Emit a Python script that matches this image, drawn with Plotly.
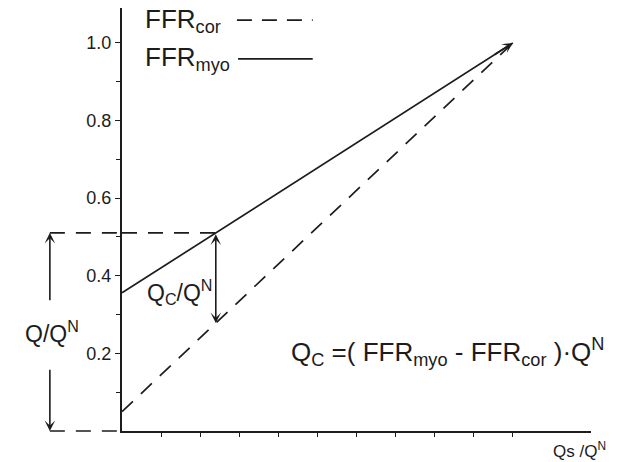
import numpy as np
import plotly.graph_objects as go

# ---- data ----
qs = [0.0, 1.0]                 # Qs/Q^N
ffr_myo = [0.356, 1.0]          # myocardial FFR line
ffr_cor = [0.05, 1.0]           # coronary FFR line
qs_sten = 0.24                  # operating point
ytick_vals = [0.2, 0.4, 0.6, 0.8, 1.0]
ytick_text = ["0.2", "0.4", "0.6", "0.8", "1.0"]
yminor_vals = [0.1, 0.3, 0.5, 0.7, 0.9]
xtick_vals = [0.1, 0.2, 0.3, 0.4, 0.5, 0.6, 0.7, 0.8, 0.9, 1.0]
q_arrow_x = -0.184              # position of the Q/Q^N arrow
q_gap = [0.333, 0.162]          # gap for the Q/Q^N label

q_total = float(np.interp(qs_sten, qs, ffr_myo))
q_cor = float(np.interp(qs_sten, qs, ffr_cor))

INK = "#1c1c1c"
FONT = "Liberation Sans, Arial, sans-serif"
DASH = "15px,11px"

fig = go.Figure()
fig.add_trace(go.Scatter(x=qs, y=ffr_myo, mode="lines", line=dict(color=INK, width=1.7),
                         xaxis="x", yaxis="y", hoverinfo="skip"))
fig.add_trace(go.Scatter(x=qs, y=ffr_cor, mode="lines", line=dict(color=INK, width=1.7, dash=DASH),
                         xaxis="x", yaxis="y", hoverinfo="skip"))
# horizontal dashed guide at Q/Q^N (main + left part)
fig.add_trace(go.Scatter(x=[0, qs_sten], y=[q_total, q_total], mode="lines",
                         line=dict(color=INK, width=1.7, dash=DASH), xaxis="x", yaxis="y", hoverinfo="skip"))
fig.add_trace(go.Scatter(x=[q_arrow_x, 0], y=[q_total, q_total], mode="lines",
                         line=dict(color=INK, width=1.7, dash=DASH), xaxis="x2", yaxis="y", hoverinfo="skip"))

shapes = [
    dict(type="line", xref="x2", yref="paper", x0=q_arrow_x, x1=0, y0=0, y1=0,
         line=dict(color=INK, width=1.7, dash=DASH)),
    # legend samples
    dict(type="line", xref="x", yref="y", x0=0.294, x1=0.488, y0=1.059, y1=1.059,
         line=dict(color=INK, width=1.7, dash="15px,10px")),
    dict(type="line", xref="x", yref="y", x0=0.297, x1=0.488, y0=0.959, y1=0.959,
         line=dict(color=INK, width=1.7)),
]

af = dict(family=FONT, color=INK)
annotations = [
    # arrow head at (1,1)
    dict(x=qs[-1], y=ffr_myo[-1], ax=0.95, ay=float(np.interp(0.95, qs, ffr_myo)),
         xref="x", yref="y", axref="x", ayref="y", text="", showarrow=True,
         arrowhead=3, arrowsize=1.1, arrowwidth=1.6, arrowcolor=INK, standoff=0),
    # Qc double arrow
    dict(x=qs_sten, y=q_cor, ax=qs_sten, ay=q_total, xref="x", yref="y", axref="x", ayref="y",
         text="", showarrow=True, arrowside="end+start", arrowhead=3, startarrowhead=3,
         arrowsize=1.1, startarrowsize=1.1, arrowwidth=1.6, arrowcolor=INK, standoff=0, startstandoff=0),
    # Q/Q^N arrows
    dict(x=q_arrow_x, y=q_total, ax=q_arrow_x, ay=q_gap[0], xref="x2", yref="y", axref="x2", ayref="y",
         text="", showarrow=True, arrowhead=3, arrowsize=1.1, arrowwidth=1.6, arrowcolor=INK, standoff=0),
    dict(x=q_arrow_x, y=0, ax=q_arrow_x, ay=q_gap[1], xref="x2", yref="y", axref="x2", ayref="y",
         text="", showarrow=True, arrowhead=3, arrowsize=1.1, arrowwidth=1.6, arrowcolor=INK, standoff=0),
    # texts
    dict(x=-0.179, y=0.255, xref="x2", yref="y", text="Q/Q<sup>N</sup>", showarrow=False,
         font=dict(size=23, **af), xanchor="center", yanchor="middle"),
    dict(x=0.148, y=0.358, xref="x", yref="y", text="Q<sub>C</sub>/Q<sup>N</sup>", showarrow=False,
         font=dict(size=23, **af), xanchor="center", yanchor="middle"),
    dict(x=0.833, y=0.204, xref="x", yref="y",
         text="Q<sub>C</sub> =( FFR<sub>myo</sub> - FFR<sub>cor</sub> )·Q<sup>N</sup>",
         showarrow=False, font=dict(size=26, **af), xanchor="center", yanchor="middle"),
    dict(x=0.054, y=1.059, xref="x", yref="y", text="FFR<sub>cor</sub>", showarrow=False,
         font=dict(size=26, **af), xanchor="left", yanchor="middle"),
    dict(x=0.054, y=0.959, xref="x", yref="y", text="FFR<sub>myo</sub>", showarrow=False,
         font=dict(size=26, **af), xanchor="left", yanchor="middle"),
    dict(x=0.98, y=-0.045, xref="paper", yref="paper", text="Qs /Q<sup>N</sup>", showarrow=False,
         font=dict(size=17, **af), xanchor="center", yanchor="middle"),
]

split = (122 - 24) / 567.0
fig.update_layout(
    width=636, height=462,
    margin=dict(l=24, r=45, t=8, b=31),
    paper_bgcolor="white", plot_bgcolor="white",
    showlegend=False,
    font=dict(family=FONT, color=INK),
    xaxis=dict(domain=[split, 1], range=[0, 1.2], showgrid=False, zeroline=False,
               showline=True, linecolor=INK, linewidth=2, anchor="y",
               ticks="outside", ticklen=4, tickwidth=1.2, tickcolor=INK,
               tickmode="array", tickvals=xtick_vals, showticklabels=False),
    xaxis2=dict(domain=[0, split], range=[-0.25, 0], visible=False, anchor="y"),
    yaxis=dict(range=[0, 1.09], showgrid=False, zeroline=False, anchor="x",
               showline=True, linecolor=INK, linewidth=2,
               ticks="outside", ticklen=5, tickwidth=1.2, tickcolor=INK,
               tickmode="array", tickvals=ytick_vals, ticktext=ytick_text,
               tickfont=dict(size=18, family=FONT, color=INK),
               minor=dict(tickmode="array", tickvals=yminor_vals, ticks="outside",
                          ticklen=4, tickwidth=1.2, tickcolor=INK, showgrid=False)),
    shapes=shapes,
    annotations=annotations,
)

fig.write_html("out.html", config={"displayModeBar": False},
               post_script="document.body.style.margin='0';document.body.style.overflow='hidden';")
